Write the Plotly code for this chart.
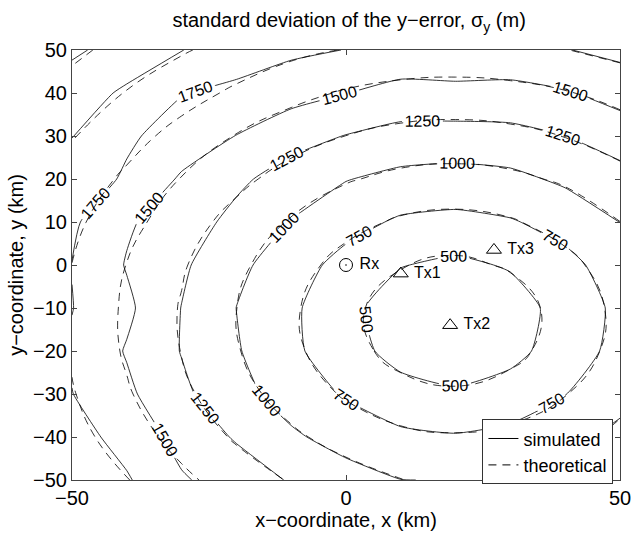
import plotly.graph_objects as go

# grid coordinates (km)
x_km = [-50, -40, -30, -20, -10, 0, 10, 20, 30, 40, 50]
y_km = [-50, -40, -30, -20, -10, 0, 10, 20, 30, 40, 50]

# theoretical sigma_y (m), rows = y from -50 to 50
z_theoretical = [
    [1941, 1761, 1556, 1380, 1230, 1111, 1001, 988, 1003, 1121, 1245],
    [1841, 1625, 1409, 1220, 1045, 902, 806, 773, 813, 916, 1062],
    [1768, 1525, 1304, 1092, 895, 722, 590, 542, 602, 741, 916],
    [1722, 1468, 1243, 1017, 804, 597, 408, 311, 426, 618, 827],
    [1714, 1461, 1233, 1002, 787, 574, 364, 262, 385, 595, 811],
    [1747, 1495, 1275, 1054, 851, 664, 512, 449, 525, 682, 872],
    [1809, 1581, 1363, 1163, 979, 827, 717, 680, 727, 841, 998],
    [1898, 1706, 1490, 1314, 1153, 1022, 940, 914, 947, 1035, 1168],
    [2014, 1841, 1667, 1488, 1353, 1248, 1178, 1156, 1183, 1257, 1365],
    [2157, 1988, 1845, 1708, 1575, 1475, 1419, 1402, 1424, 1483, 1586],
    [2304, 2162, 2024, 1907, 1811, 1739, 1683, 1667, 1689, 1744, 1820],
]

# simulated sigma_y (m), rows = y from -50 to 50
z_simulated = [
    [1990, 1775, 1525, 1390, 1228, 1105, 1003, 992, 1006, 1115, 1250],
    [1850, 1660, 1420, 1225, 1040, 900, 800, 770, 818, 925, 1070],
    [1755, 1548, 1300, 1085, 890, 725, 592, 540, 600, 745, 910],
    [1720, 1482, 1240, 1022, 800, 600, 410, 312, 428, 615, 830],
    [1756, 1548, 1245, 998, 795, 570, 368, 265, 383, 598, 806],
    [1745, 1485, 1290, 1062, 858, 668, 510, 448, 523, 680, 868],
    [1790, 1530, 1375, 1180, 990, 835, 715, 684, 730, 838, 1002],
    [1905, 1715, 1470, 1300, 1140, 1010, 932, 910, 940, 1042, 1160],
    [2005, 1790, 1640, 1495, 1345, 1242, 1170, 1150, 1175, 1250, 1370],
    [2120, 1960, 1760, 1690, 1590, 1505, 1410, 1440, 1420, 1478, 1590],
    [2290, 2150, 2005, 1880, 1800, 1745, 1690, 1660, 1680, 1740, 1815],
]

level_start, level_step = 500, 250
level_end = 2250
# extra (empty) levels above the data range only make plotly place more labels
label_level_end = level_start + 60 * level_step

station_names = ["Rx", "Tx1", "Tx2", "Tx3"]
station_x = [0, 10, 19, 27]
station_y = [0, -2, -14, 3.5]
station_symbols = ["circle-open-dot", "triangle-up-open", "triangle-up-open", "triangle-up-open"]

FONT = "Liberation Sans, Arial, Helvetica, sans-serif"
DASH = "8px,6px"
LW = 0.8

fig = go.Figure()

fig.add_trace(go.Contour(
    x=x_km, y=y_km, z=z_theoretical,
    contours=dict(start=level_start, end=level_end, size=level_step,
                  coloring="none", showlabels=False),
    line=dict(color="black", width=LW, dash=DASH, smoothing=1.3),
    showscale=False, showlegend=False, hoverinfo="skip",
))

fig.add_trace(go.Contour(
    x=x_km, y=y_km, z=z_simulated,
    contours=dict(start=level_start, end=label_level_end, size=level_step,
                  coloring="none", showlabels=True, labelformat=".0f",
                  labelfont=dict(family=FONT, size=16, color="black")),
    line=dict(color="black", width=LW, smoothing=0.5),
    showscale=False, showlegend=False, hoverinfo="skip",
))

fig.add_trace(go.Scatter(
    x=station_x, y=station_y, mode="markers+text",
    text=[" " + s for s in station_names], textposition="middle right",
    textfont=dict(family=FONT, size=16, color="black"),
    marker=dict(symbol=station_symbols, size=13, color="black",
                line=dict(width=1, color="black")),
    showlegend=False, hoverinfo="skip",
))

# legend entries
fig.add_trace(go.Scatter(x=[None], y=[None], mode="lines", name="simulated",
                         line=dict(color="black", width=1)))
fig.add_trace(go.Scatter(x=[None], y=[None], mode="lines", name="theoretical",
                         line=dict(color="black", width=1, dash=DASH)))

fig.update_layout(
    width=643, height=535,
    margin=dict(l=72, r=13, t=50, b=48),
    paper_bgcolor="white", plot_bgcolor="white",
    font=dict(family=FONT, size=20, color="black"),
    title=dict(text="standard deviation of the y\u2212error, \u03c3<sub>y</sub> (m)",
               x=0.543, xanchor="center", y=0.962, yanchor="middle",
               font=dict(size=20)),
    legend=dict(x=0.988, y=-0.01, xanchor="right", yanchor="bottom",
                bgcolor="white", bordercolor="#333", borderwidth=1,
                font=dict(size=18), tracegroupgap=0, itemwidth=30),
)

fig.update_xaxes(range=[-50, 50], tickvals=[-50, 0, 50],
                 ticks="inside", ticklen=5, tickcolor="#444",
                 tickfont=dict(size=20),
                 showline=True, linecolor="#444", linewidth=1, mirror="allticks",
                 showgrid=False, zeroline=False,
                 title=dict(text="x\u2212coordinate, x (km)", standoff=0,
                            font=dict(size=20)))
fig.update_yaxes(range=[-50, 50], dtick=10, tick0=0,
                 ticks="inside", ticklen=5, tickcolor="#444",
                 tickfont=dict(size=20),
                 showline=True, linecolor="#444", linewidth=1, mirror="allticks",
                 showgrid=False, zeroline=False,
                 title=dict(text="y\u2212coordinate, y (km)", standoff=4,
                            font=dict(size=20)))

fig.write_html("out.html")
